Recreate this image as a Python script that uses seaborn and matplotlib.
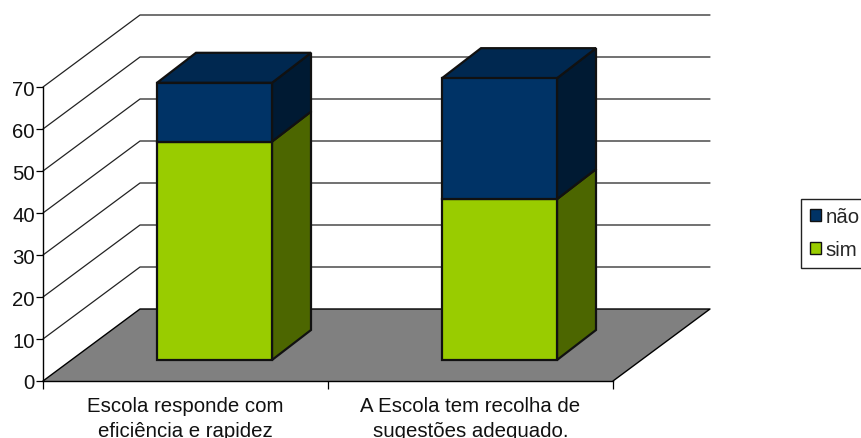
import matplotlib
matplotlib.use("Agg")
import matplotlib.pyplot as plt
from matplotlib.patches import Patch, Polygon
import seaborn as sns

# dados
categorias = ["Escola responde com\neficiência e rapidez", "A Escola tem recolha de\nsugestões adequado."]
sim = [52, 38.3]
nao = [14, 28.8]
y_ticks = [0, 10, 20, 30, 40, 50, 60, 70]

COR_SIM, COR_SIM_LADO = "#99cc00", "#4c6600"
COR_NAO, COR_NAO_LADO, COR_NAO_TOPO = "#003366", "#001a33", "#002850"
LINHA = "#111111"
FONTE = 14.7

W, H = 862, 439
sns.set_theme(style="white")
plt.rcParams["font.family"] = ["Liberation Sans", "DejaVu Sans"]

fig = plt.figure(figsize=(W / 100, H / 100), dpi=100)
ax = fig.add_axes([43 / W, 1 - 382 / H, 570 / W, 294 / H])

# profundidade, em unidades dos dados
PX_X = 285.0
PX_Y = 4.2
parede_dx, parede_dy = 97 / PX_X, 72 / PX_Y
frente_dx, frente_dy = 29 / PX_X, 21 / PX_Y
barra_dx, barra_dy = 39 / PX_X, 30 / PX_Y
LARGURA = 115 / PX_X

base = [frente_dy] * len(sim)
topo_sim = [b + s for b, s in zip(base, sim)]

sns.barplot(x=categorias, y=sim, bottom=base, color=COR_SIM, saturation=1, width=LARGURA,
            edgecolor=LINHA, linewidth=1.6, ax=ax, zorder=3)
n_sim = len(ax.patches)
sns.barplot(x=categorias, y=nao, bottom=topo_sim, color=COR_NAO, saturation=1, width=LARGURA,
            edgecolor=LINHA, linewidth=1.6, ax=ax, zorder=3)
for p in ax.patches:
    p.set_x(p.get_x() + frente_dx)
    p.set_clip_on(False)

ax.set_xlim(-0.5, 1.5)
ax.set_ylim(0, 70)

# chao e paredes
esq, dir_ = -0.5, 1.5
ax.add_patch(Polygon([(esq, 0), (esq + parede_dx, parede_dy), (dir_ + parede_dx, parede_dy), (dir_, 0)],
                     closed=True, facecolor="#808080", edgecolor="none", clip_on=False, zorder=1))
ax.plot([esq, esq + parede_dx, dir_ + parede_dx, dir_], [0, parede_dy, parede_dy, 0],
        color="black", lw=1, clip_on=False, zorder=1.5)
for v in y_ticks[1:]:
    ax.plot([esq, esq + parede_dx, dir_ + parede_dx], [v, v + parede_dy, v + parede_dy],
            color="#222222", lw=0.9, clip_on=False, zorder=1)

# faces laterais e topo das barras
for p, cor in zip(ax.patches[:], [COR_SIM_LADO] * n_sim + [COR_NAO_LADO] * n_sim):
    x1 = p.get_x() + p.get_width()
    y0, y1 = p.get_y(), p.get_y() + p.get_height()
    ax.add_patch(Polygon([(x1, y0), (x1 + barra_dx, y0 + barra_dy), (x1 + barra_dx, y1 + barra_dy), (x1, y1)],
                         closed=True, facecolor=cor, edgecolor=LINHA, lw=1.6, clip_on=False, zorder=2.5))
for p in ax.patches[n_sim:2 * n_sim]:
    x0, x1 = p.get_x(), p.get_x() + p.get_width()
    y1 = p.get_y() + p.get_height()
    ax.add_patch(Polygon([(x0, y1), (x0 + barra_dx, y1 + barra_dy), (x1 + barra_dx, y1 + barra_dy), (x1, y1)],
                         closed=True, facecolor=COR_NAO_TOPO, edgecolor=LINHA, lw=1.6, clip_on=False, zorder=2.5))

# eixos
sns.despine(ax=ax)
for s in ["left", "bottom"]:
    ax.spines[s].set_color("black")
    ax.spines[s].set_linewidth(1)
    ax.spines[s].set_zorder(4)
ax.set_yticks(y_ticks)
ax.set_xticks([0, 1], categorias)
ax.set_xticks([-0.5, 0.5, 1.5], minor=True)
ax.tick_params(axis="y", left=True, length=5, width=0.9, color="black", labelsize=FONTE, pad=1, labelcolor="#111111")
ax.tick_params(axis="x", which="major", bottom=False, labelsize=FONTE, pad=5, labelcolor="#111111")
ax.tick_params(axis="x", which="minor", bottom=True, length=6, width=0.9, color="black")
ax.set_xlabel("")
ax.set_ylabel("")
for t in ax.get_xticklabels():
    t.set_linespacing(1.4)

# legenda
handles = [Patch(facecolor=COR_NAO, edgecolor=LINHA, label="não"),
           Patch(facecolor=COR_SIM, edgecolor=LINHA, label="sim")]
leg = fig.legend(handles=handles, loc="upper left", bbox_to_anchor=(801 / W, 1 - 199.5 / H),
                 bbox_transform=fig.transFigure, fontsize=FONTE, frameon=True, fancybox=False,
                 framealpha=1, edgecolor="#222222", handlelength=0.55, handleheight=0.55,
                 handletextpad=0.25, labelspacing=0.68, borderpad=0.42, borderaxespad=0)
leg.get_frame().set_linewidth(1)

fig.savefig("out.png", dpi=100)
plt.close()
